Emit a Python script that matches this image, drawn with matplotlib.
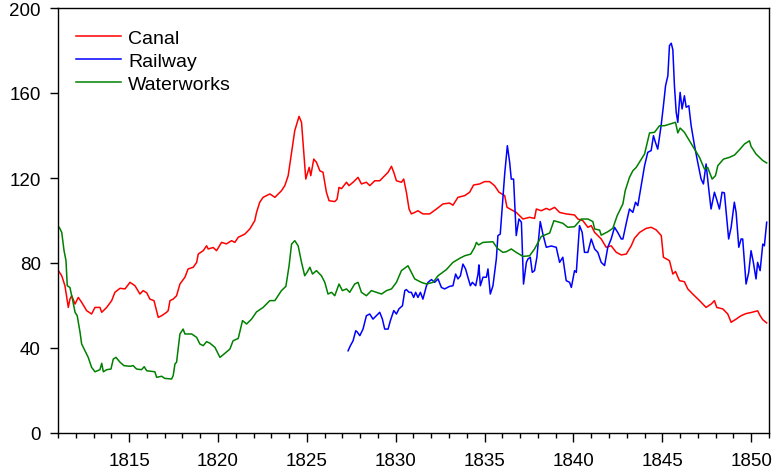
import matplotlib
matplotlib.use("Agg")
import matplotlib.pyplot as plt
from matplotlib.ticker import MultipleLocator

# Series (decimal year, index value)
canal_years = [
    1811.02, 1811.21, 1811.39, 1811.58, 1811.67, 1811.77, 1811.96, 1812.14, 1812.33, 1812.61,
    1812.89, 1813.08, 1813.36, 1813.46, 1813.74, 1814.02, 1814.20, 1814.49, 1814.77, 1815.05,
    1815.33, 1815.61, 1815.79, 1815.99, 1816.17, 1816.40, 1816.64, 1816.83, 1817.11, 1817.20,
    1817.30, 1817.48, 1817.67, 1817.86, 1818.14, 1818.32, 1818.61, 1818.80, 1818.89, 1819.17,
    1819.36, 1819.45, 1819.73, 1819.92, 1820.20, 1820.48, 1820.76, 1820.95, 1821.14, 1821.51,
    1821.79, 1822.07, 1822.17, 1822.35, 1822.54, 1822.92, 1823.20, 1823.57, 1823.76, 1823.95,
    1824.14, 1824.32, 1824.56, 1824.70, 1824.83, 1824.94, 1825.13, 1825.22, 1825.39, 1825.54,
    1825.73, 1825.91, 1826.10, 1826.25, 1826.57, 1826.70, 1826.81, 1826.95, 1827.23, 1827.37,
    1827.60, 1827.88, 1828.07, 1828.35, 1828.54, 1828.82, 1829.10, 1829.38, 1829.57, 1829.76,
    1829.89, 1830.04, 1830.32, 1830.45, 1830.60, 1830.75, 1830.88, 1831.07, 1831.25, 1831.53,
    1831.91, 1832.29, 1832.66, 1833.03, 1833.22, 1833.50, 1833.88, 1834.16, 1834.38, 1834.72,
    1835.00, 1835.28, 1835.56, 1835.81, 1836.13, 1836.26, 1836.78, 1837.16, 1837.53, 1837.81,
    1837.91, 1838.19, 1838.47, 1838.66, 1838.94, 1839.22, 1839.59, 1840.06, 1840.25, 1840.53,
    1840.81, 1841.00, 1841.19, 1841.56, 1841.84, 1842.12, 1842.41, 1842.69, 1842.97, 1843.25,
    1843.43, 1843.72, 1844.09, 1844.37, 1844.65, 1844.94, 1845.06, 1845.40, 1845.59, 1845.74,
    1845.96, 1846.24, 1846.43, 1846.71, 1847.09, 1847.46, 1847.75, 1847.93, 1848.06, 1848.40,
    1848.68, 1848.87, 1849.15, 1849.43, 1849.71, 1849.99, 1850.36, 1850.50, 1850.65, 1850.87,
]
canal = [
    76.4, 74.0, 69.3, 59.1, 63.0, 64.6, 60.7, 63.8, 61.5, 57.6,
    56.0, 59.1, 59.1, 56.8, 59.1, 62.3, 66.2, 68.1, 67.8, 70.9,
    69.3, 65.4, 67.0, 66.0, 63.0, 62.3, 54.4, 55.2, 56.8, 57.6,
    62.3, 63.0, 64.6, 70.1, 73.3, 77.2, 78.0, 80.3, 84.2, 85.8,
    88.1, 86.6, 87.3, 85.8, 89.7, 89.0, 90.5, 89.7, 92.1, 93.6,
    96.0, 99.9, 103.8, 108.6, 110.9, 112.5, 110.9, 114.0, 116.4, 121.1,
    132.1, 142.3, 149.0, 146.2, 132.1, 119.5, 125.0, 121.1, 128.9, 127.4,
    123.4, 122.7, 113.3, 109.3, 108.9, 110.0, 115.6, 115.0, 118.0, 116.4,
    118.0, 120.3, 117.2, 118.0, 116.4, 118.7, 118.7, 121.1, 122.7, 125.5,
    122.7, 118.7, 118.0, 119.5, 113.3, 105.4, 103.1, 103.8, 104.6, 103.1,
    103.1, 105.4, 107.8, 108.2, 107.2, 110.9, 111.7, 113.3, 116.7, 117.2,
    118.3, 118.3, 116.4, 113.3, 111.7, 106.2, 103.8, 100.7, 101.5, 101.0,
    105.4, 104.6, 105.7, 105.0, 106.2, 103.8, 103.1, 102.6, 100.7, 99.9,
    96.8, 97.6, 94.4, 91.3, 87.4, 88.1, 85.0, 83.8, 84.2, 88.1,
    91.6, 94.4, 96.3, 96.8, 95.6, 92.9, 82.7, 81.1, 74.8, 76.0,
    71.7, 71.2, 67.8, 65.4, 62.3, 59.1, 60.7, 62.3, 59.1, 58.4,
    56.0, 52.1, 53.6, 55.2, 56.2, 56.7, 57.5, 55.2, 53.3, 51.8,
]

railway_years = [
    1827.32, 1827.45, 1827.60, 1827.75, 1827.82, 1827.98, 1828.16, 1828.35, 1828.54, 1828.72,
    1828.91, 1829.10, 1829.25, 1829.38, 1829.57, 1829.70, 1829.89, 1830.04, 1830.18, 1830.38,
    1830.51, 1830.60, 1830.75, 1830.88, 1831.01, 1831.12, 1831.25, 1831.39, 1831.53, 1831.73,
    1831.82, 1832.01, 1832.19, 1832.38, 1832.57, 1832.75, 1833.03, 1833.22, 1833.37, 1833.50,
    1833.64, 1833.78, 1833.93, 1834.06, 1834.20, 1834.31, 1834.50, 1834.63, 1834.68, 1834.76,
    1834.91, 1835.10, 1835.19, 1835.32, 1835.47, 1835.66, 1835.75, 1835.88, 1836.00, 1836.13,
    1836.28, 1836.41, 1836.50, 1836.63, 1836.78, 1836.93, 1837.07, 1837.19, 1837.35, 1837.44,
    1837.57, 1837.68, 1837.81, 1837.94, 1838.13, 1838.28, 1838.47, 1838.75, 1839.03, 1839.22,
    1839.40, 1839.59, 1839.78, 1839.88, 1840.06, 1840.16, 1840.34, 1840.49, 1840.62, 1840.81,
    1841.00, 1841.19, 1841.37, 1841.56, 1841.75, 1841.93, 1842.12, 1842.31, 1842.49, 1842.69,
    1842.78, 1843.00, 1843.15, 1843.34, 1843.49, 1843.62, 1843.81, 1844.00, 1844.18, 1844.37,
    1844.50, 1844.61, 1844.74, 1844.93, 1845.06, 1845.18, 1845.31, 1845.40, 1845.50, 1845.59,
    1845.68, 1845.78, 1845.87, 1846.00, 1846.11, 1846.24, 1846.34, 1846.49, 1846.62, 1846.81,
    1846.99, 1847.18, 1847.31, 1847.46, 1847.61, 1847.74, 1847.93, 1848.06, 1848.21, 1848.36,
    1848.49, 1848.59, 1848.73, 1848.87, 1849.05, 1849.15, 1849.30, 1849.43, 1849.52, 1849.71,
    1849.86, 1849.99, 1850.12, 1850.27, 1850.36, 1850.50, 1850.65, 1850.74, 1850.87,
]
railway = [
    38.7, 41.1, 43.4, 48.1, 47.7, 45.8, 48.9, 55.2, 56.0, 53.6,
    55.2, 56.8, 53.6, 48.9, 48.9, 52.9, 57.6, 56.0, 58.4, 59.9,
    67.0, 67.5, 66.2, 66.2, 63.8, 66.2, 63.8, 66.2, 63.0, 69.3,
    70.9, 72.2, 70.9, 72.5, 68.5, 67.8, 69.0, 69.3, 74.8, 72.5,
    74.0, 79.5, 77.2, 73.3, 69.3, 70.9, 69.3, 74.8, 79.1, 69.3,
    73.3, 73.3, 77.2, 65.4, 69.3, 81.9, 92.9, 93.6, 107.0, 121.9,
    135.2, 127.4, 119.5, 119.5, 92.9, 100.7, 99.2, 70.1, 80.3, 81.9,
    82.7, 75.6, 76.4, 82.7, 99.5, 93.6, 87.4, 88.0, 87.4, 80.3,
    82.7, 71.7, 70.9, 68.5, 76.4, 75.6, 97.6, 94.4, 85.0, 85.0,
    91.3, 86.6, 85.0, 80.3, 78.8, 87.4, 91.3, 96.8, 94.4, 91.3,
    91.3, 99.9, 105.4, 103.8, 108.6, 107.0, 116.4, 125.8, 132.1, 132.9,
    139.9, 136.8, 133.6, 144.6, 154.0, 163.4, 168.1, 182.3, 183.4, 180.4,
    163.4, 150.9, 146.2, 160.3, 152.5, 158.7, 153.3, 154.0, 144.6, 135.2,
    127.4, 119.5, 117.2, 126.6, 114.8, 105.4, 113.3, 109.8, 105.4, 113.3,
    113.0, 103.8, 91.3, 96.8, 108.6, 103.8, 87.4, 91.3, 91.3, 70.1,
    75.6, 85.8, 80.3, 72.5, 80.3, 76.4, 88.9, 88.1, 99.2,
]

waterworks_years = [
    1811.07, 1811.21, 1811.34, 1811.45, 1811.52, 1811.67, 1811.83, 1811.96, 1812.08, 1812.24,
    1812.33, 1812.52, 1812.70, 1812.89, 1813.08, 1813.36, 1813.46, 1813.55, 1813.74, 1813.98,
    1814.11, 1814.26, 1814.49, 1814.71, 1815.05, 1815.23, 1815.42, 1815.70, 1815.85, 1815.99,
    1816.45, 1816.55, 1816.83, 1817.01, 1817.39, 1817.48, 1817.58, 1817.67, 1817.86, 1818.04,
    1818.14, 1818.52, 1818.80, 1818.98, 1819.17, 1819.36, 1819.54, 1819.83, 1820.11, 1820.29,
    1820.67, 1820.85, 1821.14, 1821.38, 1821.61, 1821.89, 1822.17, 1822.54, 1822.92, 1823.20,
    1823.57, 1823.82, 1824.00, 1824.14, 1824.32, 1824.51, 1824.70, 1824.88, 1825.01, 1825.17,
    1825.32, 1825.54, 1825.82, 1826.01, 1826.19, 1826.39, 1826.57, 1826.81, 1827.00, 1827.23,
    1827.41, 1827.69, 1827.88, 1828.07, 1828.35, 1828.63, 1828.91, 1829.20, 1829.48, 1829.76,
    1830.04, 1830.32, 1830.69, 1830.88, 1831.07, 1831.44, 1831.73, 1832.10, 1832.38, 1832.85,
    1833.22, 1833.60, 1833.88, 1834.22, 1834.44, 1834.54, 1834.66, 1834.91, 1835.47, 1835.72,
    1836.03, 1836.22, 1836.50, 1836.78, 1837.16, 1837.53, 1837.81, 1838.19, 1838.66, 1838.90,
    1839.40, 1839.68, 1840.06, 1840.44, 1840.81, 1841.09, 1841.19, 1841.47, 1841.56, 1841.93,
    1842.21, 1842.46, 1842.78, 1842.91, 1843.15, 1843.34, 1843.53, 1843.77, 1844.00, 1844.28,
    1844.56, 1844.84, 1845.12, 1845.40, 1845.74, 1845.87, 1846.00, 1846.24, 1846.53, 1846.81,
    1847.09, 1847.37, 1847.55, 1847.80, 1847.99, 1848.12, 1848.44, 1848.77, 1849.06, 1849.34,
    1849.62, 1849.90, 1849.99, 1850.27, 1850.65, 1850.87,
]
waterworks = [
    96.8, 94.4, 85.8, 81.1, 69.3, 68.5, 62.3, 56.8, 55.2, 47.4,
    41.9, 38.7, 35.6, 30.9, 28.8, 29.8, 32.8, 28.8, 29.8, 30.1,
    34.8, 35.6, 33.3, 31.7, 31.4, 31.7, 30.1, 29.8, 31.2, 29.3,
    28.8, 26.2, 26.7, 25.7, 25.4, 27.0, 32.5, 33.3, 46.6, 48.9,
    46.6, 46.6, 45.0, 41.9, 41.1, 43.0, 42.3, 40.3, 35.6, 36.8,
    39.5, 43.4, 44.5, 52.9, 51.3, 53.6, 57.0, 59.1, 62.3, 62.3,
    67.0, 69.0, 78.7, 88.9, 90.5, 88.1, 80.3, 74.0, 75.6, 78.0,
    74.8, 76.4, 74.0, 70.9, 65.4, 66.2, 64.6, 70.1, 67.0, 67.8,
    66.2, 70.1, 70.9, 66.2, 64.6, 67.0, 66.2, 65.4, 67.0, 67.8,
    70.9, 76.4, 78.7, 75.6, 72.5, 70.9, 70.1, 70.9, 74.0, 76.9,
    80.3, 82.2, 83.4, 84.2, 87.4, 89.7, 88.5, 89.7, 90.0, 86.9,
    85.0, 85.3, 86.6, 85.0, 83.1, 83.4, 86.6, 92.5, 94.1, 99.9,
    98.7, 96.8, 97.1, 100.7, 100.7, 99.5, 96.0, 95.5, 93.1, 94.7,
    96.3, 102.3, 107.8, 114.0, 120.3, 123.4, 125.0, 128.2, 131.3, 141.2,
    141.5, 144.6, 144.6, 145.3, 146.2, 141.2, 143.5, 141.5, 137.5, 133.6,
    129.7, 124.2, 125.0, 119.5, 121.1, 125.8, 128.9, 129.7, 130.8, 133.3,
    136.0, 137.5, 134.9, 131.3, 128.2, 127.1,
]

plt.rcParams['font.family'] = ['Liberation Sans', 'DejaVu Sans']

fig = plt.figure(figsize=(7.72, 4.77), dpi=100)
ax = fig.add_axes([58 / 772, 1 - 434 / 477, 711 / 772, 425 / 477])

ax.plot(canal_years, canal, color='#ff0000', lw=1.1, label='Canal')
ax.plot(railway_years, railway, color='#0000ff', lw=1.1, label='Railway')
ax.plot(waterworks_years, waterworks, color='#008000', lw=1.1, label='Waterworks')

ax.set_xlim(1811, 1851)
ax.set_ylim(0, 200)
ax.set_yticks([0, 40, 80, 120, 160, 200])
ax.set_xticks(range(1815, 1851, 5))
ax.xaxis.set_minor_locator(MultipleLocator(1))
ax.tick_params(axis='both', which='major', direction='out', width=1,
               labelsize=13.5, color='black')
ax.tick_params(axis='y', which='major', length=5.5, pad=7)
ax.tick_params(axis='x', which='major', length=6.5, pad=7.5)
ax.tick_params(axis='x', which='minor', direction='out', length=3.3, width=1)
for s in ax.spines.values():
    s.set_linewidth(1)
    s.set_color('black')

ax.legend(loc='upper left', bbox_to_anchor=(0.026, 0.95), frameon=False,
          borderpad=0, borderaxespad=0,
          fontsize=14, handlelength=2.3, handletextpad=0.35, labelspacing=0.28)

fig.savefig('out.png', dpi=100)
